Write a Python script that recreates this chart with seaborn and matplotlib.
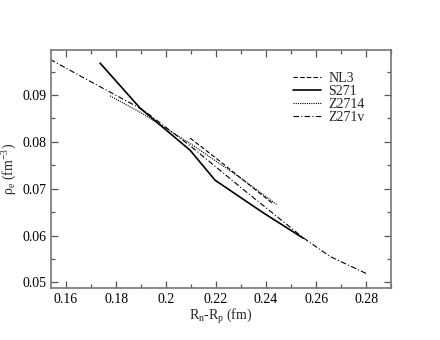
import numpy as np
import pandas as pd
import matplotlib
matplotlib.use('Agg')
import matplotlib.pyplot as plt
from matplotlib.ticker import MultipleLocator
import seaborn as sns

# values
nl3_x = [0.2096, 0.220, 0.230, 0.2430]
nl3_y = [0.0808, 0.0765, 0.0722, 0.0667]

s271_x = [0.1736, 0.1896, 0.2096, 0.2196, 0.2387, 0.2549]
s271_y = [0.0968, 0.0872, 0.0782, 0.0718, 0.0649, 0.0594]

z2714_x = [0.1776, 0.190, 0.210, 0.230, 0.2443]
z2714_y = [0.0898, 0.0862, 0.0795, 0.0722, 0.0666]

z271v_x = [0.1536, 0.170, 0.1908, 0.210, 0.230, 0.2549, 0.2656, 0.2800]
z271v_y = [0.0976, 0.0928, 0.0868, 0.0790, 0.0702, 0.0595, 0.0555, 0.0519]

series = [
    ('NL3', nl3_x, nl3_y, (0, (4, 2)), 0.8),
    ('S271', s271_x, s271_y, '-', 1.2),
    ('Z2714', z2714_x, z2714_y, (0, (1, 1)), 0.8),
    ('Z271v', z271v_x, z271v_y, (0, (5, 2, 1, 2)), 0.8),
]

sns.set_style('ticks')
plt.rcParams['font.family'] = ['Liberation Serif', 'DejaVu Serif']
plt.rcParams['mathtext.fontset'] = 'custom'
plt.rcParams['mathtext.rm'] = 'Liberation Serif'
plt.rcParams['mathtext.it'] = 'Liberation Serif:italic'

fig = plt.figure(figsize=(4.4, 3.4), dpi=100)
ax = fig.add_axes([0.116, 0.153, 0.773, 0.700])

for name, xs, ys, ls, lw in series:
    df = pd.DataFrame({'x': xs, 'y': ys})
    sns.lineplot(data=df, x='x', y='y', ax=ax, color='black', linewidth=lw,
                 linestyle=ls, label=name, sort=False)

ax.set_xlim(0.154, 0.29)
ax.set_ylim(0.0488, 0.0996)
ax.xaxis.set_minor_locator(MultipleLocator(0.01))
ax.yaxis.set_minor_locator(MultipleLocator(0.005))
ax.set_xticks([0.16, 0.18, 0.20, 0.22, 0.24, 0.26, 0.28])
ax.set_xticklabels(['0.16', '0.18', '0.2', '0.22', '0.24', '0.26', '0.28'])
ax.set_yticks([0.05, 0.06, 0.07, 0.08, 0.09])
ax.set_yticklabels(['0.05', '0.06', '0.07', '0.08', '0.09'])

ax.tick_params(which='both', direction='in', top=True, right=True,
               colors='#555555', labelcolor='black', labelsize=10)
ax.tick_params(which='major', length=5, width=0.9)
ax.tick_params(which='minor', length=3, width=0.9)
for sp in ax.spines.values():
    sp.set_color('#777777')
    sp.set_linewidth(1.2)

ax.set_xlabel(r'R$_\mathrm{n}$-R$_\mathrm{p}$ (fm)', fontsize=10, labelpad=1)
ax.set_ylabel(r'ρ$_\mathrm{e}$ (fm$^\mathrm{-3}$)', fontsize=10, labelpad=2)

leg = ax.legend(loc='upper right', bbox_to_anchor=(0.95, 0.95), frameon=False,
                fontsize=10, handlelength=2.0, handletextpad=0.5,
                labelspacing=0.0, borderaxespad=0.3)

fig.savefig('out.png', dpi=100)
